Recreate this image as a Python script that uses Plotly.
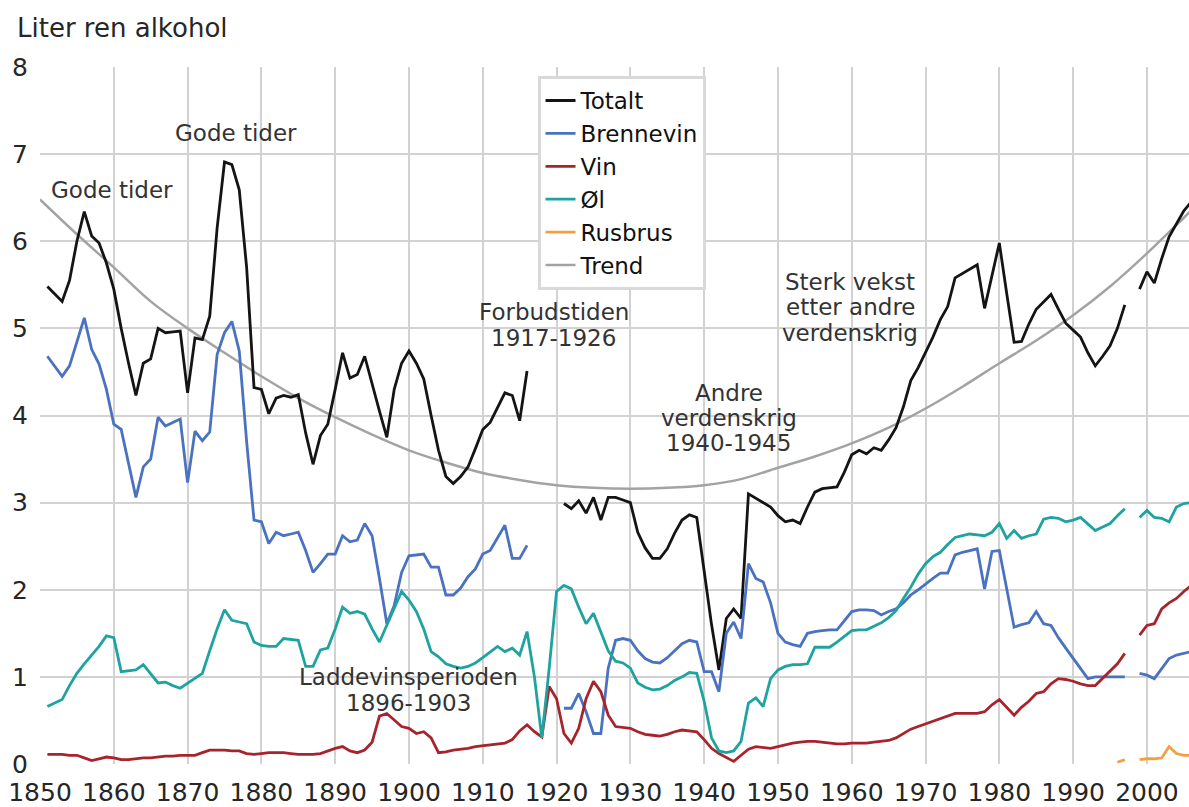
import plotly.graph_objects as go

# ---------------- data (litres pure alcohol per adult) ----------------
TOTALT_1851_1916 = [
    5.48, 5.40, 5.31, 5.55, 6.00, 6.34, 6.06, 5.98, 5.75, 5.45,
    5.00, 4.60, 4.23, 4.60, 4.65, 5.00, 4.95, 4.96, 4.97, 4.26,
    4.89, 4.87, 5.14, 6.15, 6.91, 6.88, 6.59, 5.70, 4.32, 4.30,
    4.02, 4.20, 4.23, 4.21, 4.24, 3.80, 3.44, 3.77, 3.90, 4.30,
    4.72, 4.43, 4.47, 4.68, 4.35, 4.05, 3.75, 4.30, 4.60, 4.74,
    4.60, 4.42, 4.00, 3.60, 3.30, 3.22, 3.30, 3.41, 3.62, 3.84,
    3.92, 4.10, 4.26, 4.23, 3.94, 4.51]
TOTALT_1921_1997 = [
    2.99, 2.93, 3.02, 2.88, 3.06, 2.80, 3.06, 3.06, 3.03, 3.00,
    2.66, 2.48, 2.36, 2.36, 2.47, 2.65, 2.80, 2.86, 2.83, 2.20,
    1.60, 1.08, 1.67, 1.78, 1.67, 3.10, 3.05, 3.00, 2.95, 2.85,
    2.78, 2.80, 2.76, 2.95, 3.12, 3.16, 3.17, 3.18, 3.35, 3.55,
    3.60, 3.56, 3.63, 3.60, 3.72, 3.86, 4.10, 4.40, 4.55, 4.72,
    4.90, 5.10, 5.25, 5.58, 5.63, 5.68, 5.73, 5.23, 5.60, 5.98,
    5.40, 4.84, 4.85, 5.05, 5.22, 5.30, 5.39, 5.22, 5.06, 4.98,
    4.90, 4.72, 4.57, 4.68, 4.80, 5.00, 5.27]
TOTALT_1999_2006 = [5.45, 5.65, 5.52, 5.80, 6.05, 6.20, 6.35, 6.45]

BRENNEVIN_1851_1916 = [
    4.68, 4.56, 4.45, 4.57, 4.85, 5.12, 4.76, 4.59, 4.30, 3.90,
    3.84, 3.44, 3.06, 3.41, 3.50, 3.98, 3.88, 3.92, 3.96, 3.23,
    3.82, 3.71, 3.81, 4.70, 4.95, 5.08, 4.74, 3.70, 2.80, 2.78,
    2.53, 2.66, 2.62, 2.64, 2.66, 2.45, 2.20, 2.30, 2.41, 2.41,
    2.62, 2.55, 2.57, 2.76, 2.62, 2.13, 1.61, 1.82, 2.20, 2.39,
    2.40, 2.41, 2.26, 2.26, 1.94, 1.94, 2.02, 2.15, 2.24, 2.41,
    2.45, 2.60, 2.74, 2.36, 2.36, 2.51]
BRENNEVIN_1921_1997 = [
    0.64, 0.64, 0.81, 0.60, 0.35, 0.35, 1.10, 1.42, 1.44, 1.42,
    1.30, 1.21, 1.17, 1.16, 1.22, 1.30, 1.38, 1.42, 1.40, 1.06,
    1.06, 0.83, 1.50, 1.63, 1.44, 2.30, 2.13, 2.09, 1.85, 1.50,
    1.40, 1.37, 1.35, 1.50, 1.52, 1.53, 1.54, 1.54, 1.65, 1.75,
    1.77, 1.77, 1.76, 1.71, 1.75, 1.78, 1.85, 1.94, 2.00, 2.07,
    2.13, 2.19, 2.19, 2.40, 2.43, 2.45, 2.47, 2.01, 2.44, 2.45,
    2.00, 1.57, 1.60, 1.62, 1.75, 1.61, 1.59, 1.45, 1.33, 1.21,
    1.10, 0.98, 1.00, 1.00, 1.00, 1.00, 1.00]
BRENNEVIN_1999_2006 = [1.04, 1.02, 0.98, 1.10, 1.21, 1.25, 1.27, 1.29]

VIN_1851_1997 = [
    0.11, 0.11, 0.11, 0.10, 0.10, 0.07, 0.04, 0.06, 0.08, 0.07,
    0.05, 0.05, 0.06, 0.07, 0.07, 0.08, 0.09, 0.09, 0.10, 0.10,
    0.10, 0.13, 0.16, 0.16, 0.16, 0.15, 0.15, 0.12, 0.11, 0.12,
    0.13, 0.13, 0.13, 0.12, 0.11, 0.11, 0.11, 0.12, 0.15, 0.18,
    0.20, 0.15, 0.13, 0.16, 0.25, 0.55, 0.58, 0.50, 0.43, 0.41,
    0.35, 0.37, 0.30, 0.13, 0.14, 0.16, 0.17, 0.18, 0.20, 0.21,
    0.22, 0.23, 0.24, 0.28, 0.38, 0.45, 0.37, 0.31, 0.89, 0.75,
    0.35, 0.24, 0.41, 0.75, 0.95, 0.83, 0.56, 0.43, 0.42, 0.41,
    0.37, 0.34, 0.33, 0.32, 0.34, 0.37, 0.39, 0.38, 0.37, 0.28,
    0.18, 0.12, 0.07, 0.03, 0.10, 0.17, 0.20, 0.19, 0.18, 0.20,
    0.22, 0.24, 0.25, 0.26, 0.26, 0.25, 0.24, 0.23, 0.23, 0.24,
    0.24, 0.24, 0.25, 0.26, 0.27, 0.30, 0.35, 0.40, 0.43, 0.46,
    0.49, 0.52, 0.55, 0.58, 0.58, 0.58, 0.58, 0.60, 0.68, 0.74,
    0.65, 0.56, 0.65, 0.72, 0.81, 0.83, 0.92, 0.98, 0.97, 0.95,
    0.92, 0.90, 0.90, 0.98, 1.06, 1.15, 1.27]
VIN_1999_2006 = [1.48, 1.59, 1.61, 1.78, 1.85, 1.90, 1.98, 2.05]

OL_1851_1997 = [
    0.66, 0.70, 0.74, 0.90, 1.04, 1.15, 1.25, 1.35, 1.47, 1.45,
    1.06, 1.07, 1.08, 1.14, 1.03, 0.93, 0.94, 0.90, 0.87, 0.93,
    0.98, 1.04, 1.30, 1.55, 1.77, 1.65, 1.63, 1.61, 1.40, 1.36,
    1.35, 1.35, 1.44, 1.43, 1.42, 1.12, 1.12, 1.31, 1.33, 1.55,
    1.80, 1.73, 1.75, 1.72, 1.55, 1.40, 1.59, 1.80, 1.98, 1.88,
    1.75, 1.55, 1.29, 1.23, 1.15, 1.12, 1.10, 1.12, 1.16, 1.22,
    1.28, 1.35, 1.29, 1.33, 1.25, 1.52, 1.00, 0.30, 1.10, 1.98,
    2.05, 2.01, 1.80, 1.61, 1.73, 1.52, 1.30, 1.18, 1.16, 1.10,
    0.93, 0.88, 0.85, 0.86, 0.90, 0.96, 1.00, 1.05, 1.04, 0.72,
    0.30, 0.15, 0.13, 0.15, 0.26, 0.70, 0.76, 0.66, 0.98, 1.08,
    1.12, 1.14, 1.14, 1.15, 1.34, 1.34, 1.34, 1.40, 1.47, 1.53,
    1.54, 1.54, 1.58, 1.62, 1.68, 1.76, 1.90, 2.03, 2.18, 2.30,
    2.38, 2.43, 2.52, 2.60, 2.62, 2.64, 2.63, 2.62, 2.66, 2.76,
    2.59, 2.68, 2.59, 2.62, 2.64, 2.81, 2.83, 2.82, 2.78, 2.80,
    2.83, 2.75, 2.68, 2.72, 2.76, 2.85, 2.93]
OL_1999_2006 = [2.83, 2.91, 2.83, 2.82, 2.78, 2.95, 2.99, 3.00]

RUSBRUS_1996_1997 = [0.02, 0.05]
RUSBRUS_1999_2006 = [0.05, 0.06, 0.06, 0.07, 0.20, 0.12, 0.10, 0.10]

TREND_YEARS = [1850, 1855, 1860, 1865, 1870, 1875, 1880, 1885, 1890, 1895,
               1900, 1905, 1910, 1915, 1920, 1925, 1930, 1935, 1940, 1945,
               1950, 1955, 1960, 1965, 1970, 1975, 1980, 1985, 1990, 1995,
               2000, 2005, 2006]
TREND_VALUES = [6.48, 6.08, 5.70, 5.31, 5.00, 4.72, 4.45, 4.20, 3.98, 3.78,
                3.60, 3.46, 3.34, 3.26, 3.20, 3.17, 3.16, 3.17, 3.20, 3.27,
                3.40, 3.53, 3.68, 3.86, 4.08, 4.33, 4.60, 4.86, 5.15, 5.48,
                5.86, 6.27, 6.35]

X_TICKS = list(range(1850, 2001, 10))
Y_TICKS = list(range(0, 9))


def join(*segments):
    """Concatenate (start_year, values) segments with a gap between them."""
    xs, ys = [], []
    for i, (start, vals) in enumerate(segments):
        if i > 0:
            xs.append(start - 1)
            ys.append(None)
        xs.extend(range(start, start + len(vals)))
        ys.extend(vals)
    return xs, ys


FONT = "DejaVu Sans"
TXT = "#262626"

fig = go.Figure()

fig.add_trace(go.Scatter(x=TREND_YEARS, y=TREND_VALUES, mode="lines", name="Trend", legendrank=6,
                         line=dict(color="#a3a3a3", width=2.5, shape="spline")))

series = [
    ("Totalt", "#141414", join((1851, TOTALT_1851_1916), (1921, TOTALT_1921_1997), (1999, TOTALT_1999_2006))),
    ("Brennevin", "#4a72c0", join((1851, BRENNEVIN_1851_1916), (1921, BRENNEVIN_1921_1997), (1999, BRENNEVIN_1999_2006))),
    ("Vin", "#a8242c", join((1851, VIN_1851_1997), (1999, VIN_1999_2006))),
    ("Øl", "#1fa3a0", join((1851, OL_1851_1997), (1999, OL_1999_2006))),
    ("Rusbrus", "#f5a040", join((1996, RUSBRUS_1996_1997), (1999, RUSBRUS_1999_2006))),
]
for rank, (name, color, (xs, ys)) in enumerate(series, start=1):
    fig.add_trace(go.Scatter(x=xs, y=ys, mode="lines", name=name, legendrank=rank,
                             connectgaps=False, line=dict(color=color, width=2.8)))

# annotations (one per text line, data coordinates)
notes = [
    ("Gode tider", 1859.8, 6.59),
    ("Gode tider", 1876.6, 7.24),
    ("Forbudstiden", 1919.6, 5.19),
    ("1917-1926", 1919.6, 4.89),
    ("Andre", 1943.3, 4.26),
    ("verdenskrig", 1943.3, 3.97),
    ("1940-1945", 1943.3, 3.68),
    ("Sterk vekst", 1959.8, 5.53),
    ("etter andre", 1959.8, 5.24),
    ("verdenskrig", 1959.8, 4.95),
    ("Laddevinsperioden", 1900.0, 1.00),
    ("1896-1903", 1900.0, 0.70),
]
for text, x, y in notes:
    fig.add_annotation(x=x, y=y, text=text, showarrow=False, xanchor="center", yanchor="middle",
                       font=dict(family=FONT, size=23, color="#333333"))

fig.add_annotation(xref="paper", yref="paper", x=-0.022, y=1.056, text="Liter ren alkohol",
                   showarrow=False, xanchor="left", yanchor="middle",
                   font=dict(family=FONT, size=26, color=TXT))

fig.update_layout(
    width=1189, height=807,
    margin=dict(l=40, r=0, t=67, b=41),
    paper_bgcolor="white", plot_bgcolor="white",
    font=dict(family=FONT, color=TXT),
    legend=dict(x=0.433, y=0.987, xanchor="left", yanchor="top",
                bgcolor="white", bordercolor="#d9d9d9", borderwidth=3,
                font=dict(family=FONT, size=23, color="#111111"),
                tracegroupgap=0),
    showlegend=True,
)
fig.update_xaxes(range=[1850, 2005.7], tickvals=X_TICKS, ticktext=[str(v) for v in X_TICKS],
                 showgrid=True, gridcolor="#d2d2d2", gridwidth=2, zeroline=False,
                 showline=False, ticks="", tickfont=dict(family=FONT, size=25, color=TXT),
                 ticklabelstandoff=11)
fig.update_yaxes(range=[0, 8], tickvals=Y_TICKS, showgrid=True, gridcolor="#d2d2d2", gridwidth=2,
                 zeroline=False, showline=False, ticks="",
                 tickfont=dict(family=FONT, size=25, color=TXT), ticklabelstandoff=11)

fig.write_html("out.html", config={"displayModeBar": False},
               post_script="document.body.style.margin='0';document.body.style.overflow='hidden';")
